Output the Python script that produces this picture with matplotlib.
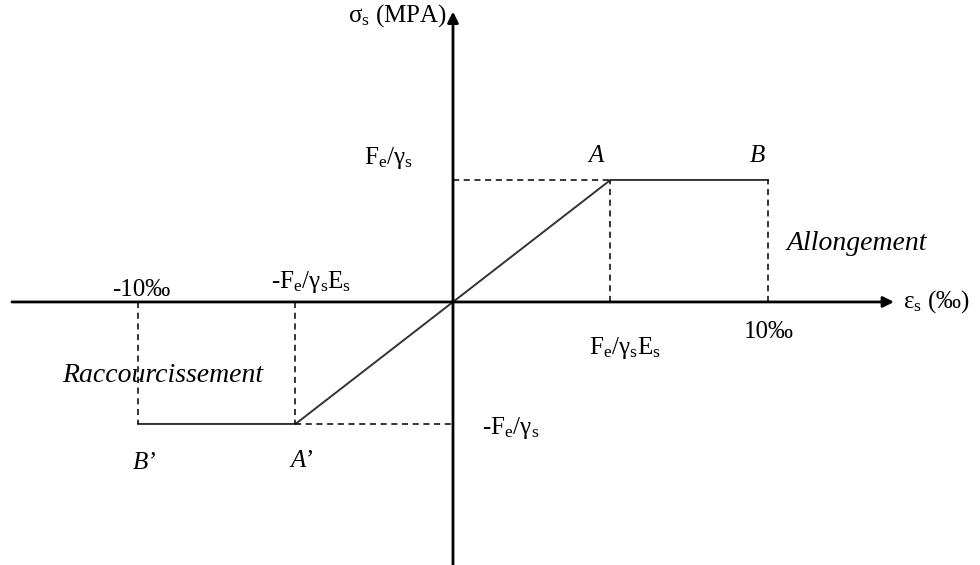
import matplotlib
matplotlib.use("Agg")
import matplotlib.pyplot as plt

# Data (strain in ‰, stress in units of Fe/γs)
strain = [-10, -5, 0, 5, 10]
stress = [-1, -1, 0, 1, 1]
eps_y = 5      # Fe/γsEs
eps_max = 10   # 10‰
sig_y = 1      # Fe/γs

plt.rcParams['font.family'] = ['Liberation Serif', 'DejaVu Serif']
plt.rcParams['mathtext.fontset'] = 'custom'
plt.rcParams['mathtext.rm'] = 'Liberation Serif'
plt.rcParams['mathtext.it'] = 'Liberation Serif:italic'

fig = plt.figure(figsize=(9.8, 5.65), dpi=100)
ax = fig.add_axes([0, 0, 1, 1])
ax.set_xlim(-14.38, 16.73)
ax.set_ylim(-2.156, 2.475)
ax.axis('off')

# axes with arrows
ax.annotate('', xy=(14.0, 0), xytext=(-14.0, 0),
            arrowprops=dict(arrowstyle='-|>', lw=2.0, color='black',
                            mutation_scale=16, shrinkA=0, shrinkB=0))
ax.annotate('', xy=(0, 2.38), xytext=(0, -2.156),
            arrowprops=dict(arrowstyle='-|>', lw=2.0, color='black',
                            mutation_scale=16, shrinkA=0, shrinkB=0))

# stress-strain curve
ax.plot(strain, stress, color='#333333', lw=1.4, solid_joinstyle='miter')

# dashed guides
dash = dict(color='black', lw=1.1, ls=(0, (4, 3)))
ax.plot([eps_y, eps_y], [0, sig_y], **dash)
ax.plot([0, eps_y], [sig_y, sig_y], **dash)
ax.plot([eps_max, eps_max], [0, sig_y], **dash)
ax.plot([-eps_y, -eps_y], [0, -sig_y], **dash)
ax.plot([-eps_y, 0], [-sig_y, -sig_y], **dash)
ax.plot([-eps_max, -eps_max], [0, -sig_y], **dash)

fs = 18
fi = 20
# labels
ax.text(-0.19, 2.35, r'$\mathrm{\sigma_s}$ (MPA)', fontsize=fs, ha='right', va='center')
ax.text(-2.06, 1.18, r'$\mathrm{F_e/\gamma_s}$', fontsize=fs, ha='center', va='center')
ax.text(4.54, 1.2, 'A', fontsize=fs, style='italic', ha='center', va='center')
ax.text(9.65, 1.2, 'B', fontsize=fs, style='italic', ha='center', va='center')
ax.text(12.83, 0.48, 'Allongement', fontsize=fi, style='italic', ha='center', va='center')
ax.text(-9.9, 0.1, '-10‰', fontsize=fs, ha='center', va='center')
ax.text(-4.5, 0.16, r'-$\mathrm{F_e/\gamma_s E_s}$', fontsize=fs, ha='center', va='center')
ax.text(-9.2, -0.6, 'Raccourcissement', fontsize=fi, style='italic', ha='center', va='center')
ax.text(-9.78, -1.32, "B’", fontsize=fs, style='italic', ha='center', va='center')
ax.text(-4.79, -1.3, "A’", fontsize=fs, style='italic', ha='center', va='center')
ax.text(0.92, -1.03, r'-$\mathrm{F_e/\gamma_s}$', fontsize=fs, ha='left', va='center')
ax.text(5.46, -0.38, r'$\mathrm{F_e/\gamma_s E_s}$', fontsize=fs, ha='center', va='center')
ax.text(10.03, -0.25, '10‰', fontsize=fs, ha='center', va='center')
ax.text(14.29, 0.0, r'$\mathrm{\varepsilon_s}$ (‰)', fontsize=fs, ha='left', va='center')

fig.savefig('out.png', dpi=100)
